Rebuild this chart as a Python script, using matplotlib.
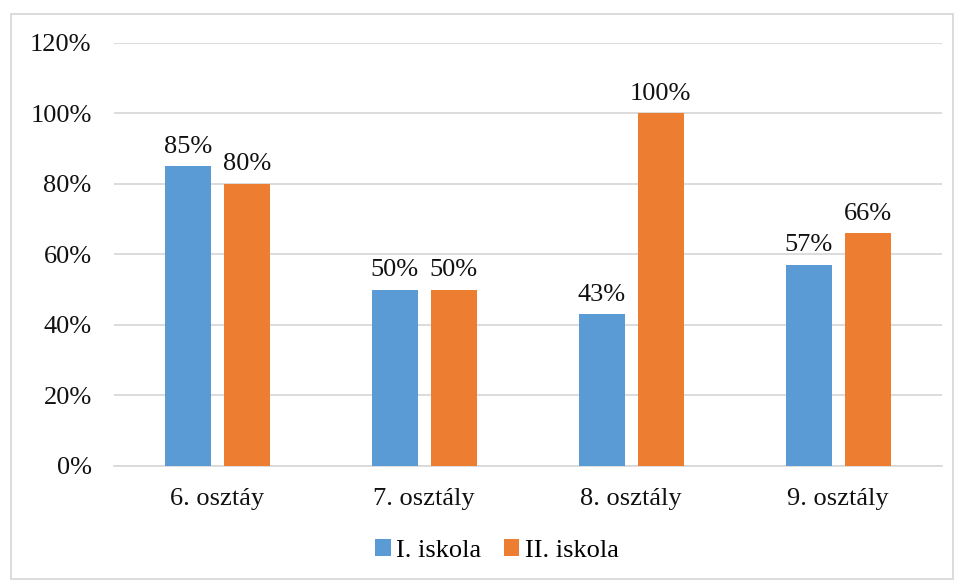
import numpy as np
import matplotlib.pyplot as plt
from matplotlib.patches import Rectangle

categories = ["6. osztáy", "7. osztály", "8. osztály", "9. osztály"]
school1 = [85, 50, 43, 57]
school2 = [80, 50, 100, 66]
series_labels = ["I. iskola", "II. iskola"]
yticks = [0, 20, 40, 60, 80, 100, 120]

plt.rcParams["font.family"] = ["Liberation Serif", "DejaVu Serif"]

fig = plt.figure(figsize=(9.57, 5.81), dpi=100)
ax = fig.add_axes([0.119, 0.198, 0.865, 0.728])

x = np.arange(len(categories))
w = 0.222
off = 0.1425
b1 = ax.bar(x - off, school1, w, color="#5B9BD5", label=series_labels[0], zorder=3)
b2 = ax.bar(x + off, school2, w, color="#ED7D31", label=series_labels[1], zorder=3)

for bars, vals in [(b1, school1), (b2, school2)]:
    for r, v in zip(bars, vals):
        ax.text(r.get_x() + r.get_width() / 2, v + 2.5, f"{v}%",
                ha="center", va="bottom", fontsize=19, color="#111111")

ax.set_xlim(-0.5, len(categories) - 0.5)
ax.set_ylim(0, 120)
ax.set_yticks(yticks)
ax.set_yticklabels([f"{t}%" for t in yticks], fontsize=19, color="#111111")
ax.set_xticks(x)
ax.set_xticklabels(categories, fontsize=19, color="#111111")
ax.tick_params(length=0)
ax.tick_params(axis="y", pad=16)
ax.tick_params(axis="x", pad=16)
ax.grid(axis="y", color="#D9D9D9", linewidth=1.3, zorder=0)
for s in ["top", "right", "left"]:
    ax.spines[s].set_visible(False)
ax.spines["bottom"].set_color("#D9D9D9")
ax.spines["bottom"].set_linewidth(1.3)

fig.legend(loc="center", bbox_to_anchor=(0.519, 0.052), ncol=2, frameon=False,
           fontsize=19, handlelength=0.6, handleheight=0.6, handletextpad=0.2,
           columnspacing=0.85)

fig.patches.append(Rectangle((0.012, 0.004), 0.984, 0.972, transform=fig.transFigure,
                             fill=False, edgecolor="#D9D9D9", linewidth=1.3))

fig.savefig("out.png", dpi=100)
